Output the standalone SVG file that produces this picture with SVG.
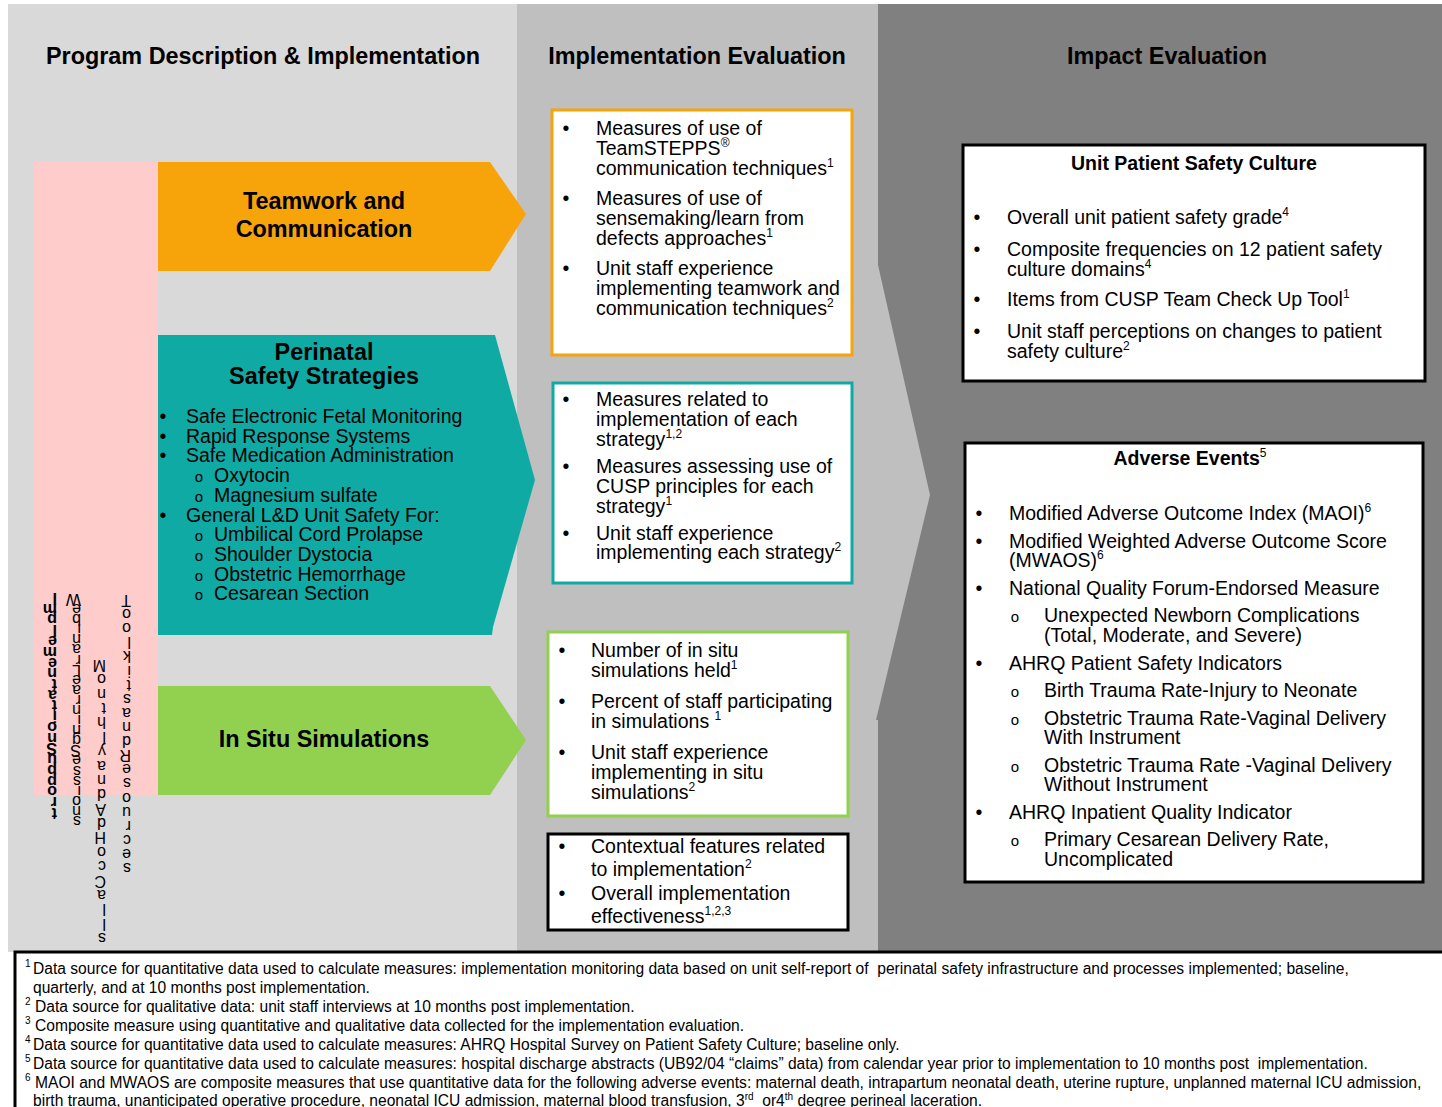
<svg xmlns="http://www.w3.org/2000/svg" width="1442" height="1107" viewBox="0 0 1442 1107">
  <style>
    text { font-family: "Liberation Sans", Arial, sans-serif; fill: #000; }
    .hdr { font-size: 23.4px; font-weight: bold; text-anchor: middle; }
    .t { font-size: 19.5px; }
    .tb { font-size: 19.5px; font-weight: bold; text-anchor: middle; }
    .bul { font-size: 19.5px; text-anchor: middle; }
    .sub { font-size: 15px; text-anchor: middle; }
    .fn { font-size: 15.6px; }
    .fns { font-size: 10px; }
    .vt { font-size: 16px; }
    .vtb { font-size: 16px; font-weight: bold; }
    .box { fill: #fff; stroke-width: 3; }
  </style>

  <!-- background lanes -->
  <g id="lanes">
    <rect x="0" y="0" width="1442" height="1107" fill="#fff"/>
    <rect x="8" y="4" width="509" height="948" fill="#d9d9d9"/>
    <rect x="874" y="4" width="568" height="948" fill="#808080"/>
    <polygon points="517,4 878,4 878,265 930,495 876,720 878,720 878,952 517,952" fill="#bfbfbf"/>
    <text class="hdr" x="263" y="64">Program Description &amp; Implementation</text>
    <text class="hdr" x="697" y="64">Implementation Evaluation</text>
    <text class="hdr" x="1167" y="64">Impact Evaluation</text>
  </g>

  <!-- implementation support bar: stacked, upside-down glyph columns -->
  <g id="support-bar">
    <rect x="34" y="162" width="124" height="633" fill="#ffcccc"/>
    <text class="vtb" rotate="180"
      x="57 57 57 57 57 57 57 57 57 57 57 57 57 57 57 57 57 57 57 57 57 57"
      y="593 604 614 625 636 647 658 668 679 690 700 711 722 733 743 743 754 765 776 786 797 808">Implementation Support</text>
    <text class="vt" rotate="180"
      x="81 81 81 81 81 81 81 81 81 81 81 81 81 81 81 81 81 81 81 81 81 81 81 81 81"
      y="594 604 614 624 634 644 655 665 665 675 685 695 705 715 725 735 745 745 755 766 776 786 796 806 816">Webinar Learning Sessions</text>
    <text class="vt" rotate="180"
      x="106 106 106 106 106 106 106 106 106 106 106 106 106 106 106 106 106 106 106 106 106 106 106 106"
      y="660 674 689 703 717 732 746 761 761 775 789 804 804 818 832 832 847 861 876 876 890 904 919 933">Monthly and Ad Hoc Calls</text>
    <text class="vt" rotate="180"
      x="131 131 131 131 131 131 131 131 131 131 131 131 131 131 131 131 131 131 131 131 131 131"
      y="595 609 623 637 651 666 680 694 708 708 722 736 750 750 764 778 793 807 821 835 849 863">Toolkits and Resources</text>
  </g>

  <!-- program components -->
  <g id="teamwork">
    <polygon points="158,162 490,162 526,214 490,271 158,271" fill="#f7a40b"/>
    <text class="hdr" x="324" y="209">Teamwork and</text>
    <text class="hdr" x="324" y="237">Communication</text>
  </g>

  <g id="perinatal">
    <polygon points="158,335 495,335 535,480 493,627 492,635 158,635" fill="#10aaa5"/>
    <text class="hdr" x="324" y="360">Perinatal</text>
    <text class="hdr" x="324" y="384">Safety Strategies</text>
    <text class="bul" x="163" y="422.5">•</text>
    <text class="t" x="186" y="422.5">Safe Electronic Fetal Monitoring</text>
    <text class="bul" x="163" y="442.5">•</text>
    <text class="t" x="186" y="442.5">Rapid Response Systems</text>
    <text class="bul" x="163" y="461.5">•</text>
    <text class="t" x="186" y="461.5">Safe Medication Administration</text>
    <text class="sub" x="199" y="481.5">o</text>
    <text class="t" x="214" y="481.5">Oxytocin</text>
    <text class="sub" x="199" y="501.5">o</text>
    <text class="t" x="214" y="501.5">Magnesium sulfate</text>
    <text class="bul" x="163" y="521.5">•</text>
    <text class="t" x="186" y="521.5">General L&amp;D Unit Safety For:</text>
    <text class="sub" x="199" y="540.5">o</text>
    <text class="t" x="214" y="540.5">Umbilical Cord Prolapse</text>
    <text class="sub" x="199" y="560.5">o</text>
    <text class="t" x="214" y="560.5">Shoulder Dystocia</text>
    <text class="sub" x="199" y="580.5">o</text>
    <text class="t" x="214" y="580.5">Obstetric Hemorrhage</text>
    <text class="sub" x="199" y="599.5">o</text>
    <text class="t" x="214" y="599.5">Cesarean Section</text>
  </g>

  <g id="insitu">
    <polygon points="158,686 490,686 526,740 490,795 158,795" fill="#92d050"/>
    <text class="hdr" x="324" y="747">In Situ Simulations</text>
  </g>

  <!-- implementation evaluation measures -->
  <g id="eval-teamwork">
    <rect class="box" x="552" y="110" width="300" height="245" stroke="#f5a40b"/>
    <text class="bul" x="566" y="134.5">•</text>
    <text class="t" x="596" y="134.5">Measures of use of</text>
    <text class="t" x="596" y="154.5">TeamSTEPPS<tspan font-size="12" dy="-8">®</tspan></text>
    <text class="t" x="596" y="174.5">communication techniques<tspan font-size="12" dy="-8">1</tspan></text>
    <text class="bul" x="566" y="204.5">•</text>
    <text class="t" x="596" y="204.5">Measures of use of</text>
    <text class="t" x="596" y="224.5">sensemaking/learn from</text>
    <text class="t" x="596" y="244.5">defects approaches<tspan font-size="12" dy="-8">1</tspan></text>
    <text class="bul" x="566" y="274.5">•</text>
    <text class="t" x="596" y="274.5">Unit staff experience</text>
    <text class="t" x="596" y="294.5">implementing teamwork and</text>
    <text class="t" x="596" y="314.5">communication techniques<tspan font-size="12" dy="-8">2</tspan></text>
  </g>

  <g id="eval-perinatal">
    <rect class="box" x="553" y="383" width="299" height="200" stroke="#10aaa5"/>
    <text class="bul" x="566" y="405.5">•</text>
    <text class="t" x="596" y="405.5">Measures related to</text>
    <text class="t" x="596" y="425.5">implementation of each</text>
    <text class="t" x="596" y="445.5">strategy<tspan font-size="12" dy="-8">1,2</tspan></text>
    <text class="bul" x="566" y="472.5">•</text>
    <text class="t" x="596" y="472.5">Measures assessing use of</text>
    <text class="t" x="596" y="492.5">CUSP principles for each</text>
    <text class="t" x="596" y="512.5">strategy<tspan font-size="12" dy="-8">1</tspan></text>
    <text class="bul" x="566" y="539.5">•</text>
    <text class="t" x="596" y="539.5">Unit staff experience</text>
    <text class="t" x="596" y="558.5">implementing each strategy<tspan font-size="12" dy="-8">2</tspan></text>
  </g>

  <g id="eval-insitu">
    <rect class="box" x="548" y="632" width="300" height="184" stroke="#92d050"/>
    <text class="bul" x="562" y="656.5">•</text>
    <text class="t" x="591" y="656.5">Number of in situ</text>
    <text class="t" x="591" y="676.5">simulations held<tspan font-size="12" dy="-8">1</tspan></text>
    <text class="bul" x="562" y="707.5">•</text>
    <text class="t" x="591" y="707.5">Percent of staff participating</text>
    <text class="t" x="591" y="727.5" xml:space="preserve">in simulations <tspan font-size="12" dy="-8">1</tspan></text>
    <text class="bul" x="562" y="758.5">•</text>
    <text class="t" x="591" y="758.5">Unit staff experience</text>
    <text class="t" x="591" y="778.5">implementing in situ</text>
    <text class="t" x="591" y="798.5">simulations<tspan font-size="12" dy="-8">2</tspan></text>
  </g>

  <g id="eval-overall">
    <rect class="box" x="548" y="834" width="300" height="96" stroke="#000"/>
    <text class="bul" x="562" y="852.5">•</text>
    <text class="t" x="591" y="852.5">Contextual features related</text>
    <text class="t" x="591" y="875.5">to implementation<tspan font-size="12" dy="-8">2</tspan></text>
    <text class="bul" x="562" y="899.5">•</text>
    <text class="t" x="591" y="899.5">Overall implementation</text>
    <text class="t" x="591" y="922.5">effectiveness<tspan font-size="12" dy="-8">1,2,3</tspan></text>
  </g>

  <!-- impact evaluation measures -->
  <g id="impact-culture">
    <rect class="box" x="963" y="145" width="462" height="236" stroke="#000"/>
    <text class="tb" x="1194" y="170">Unit Patient Safety Culture</text>
    <text class="bul" x="977" y="223.5">•</text>
    <text class="t" x="1007" y="223.5">Overall unit patient safety grade<tspan font-size="12" dy="-8">4</tspan></text>
    <text class="bul" x="977" y="255.5">•</text>
    <text class="t" x="1007" y="255.5">Composite frequencies on 12 patient safety</text>
    <text class="t" x="1007" y="275.5">culture domains<tspan font-size="12" dy="-8">4</tspan></text>
    <text class="bul" x="977" y="305.5">•</text>
    <text class="t" x="1007" y="305.5">Items from CUSP Team Check Up Tool<tspan font-size="12" dy="-8">1</tspan></text>
    <text class="bul" x="977" y="337.5">•</text>
    <text class="t" x="1007" y="337.5">Unit staff perceptions on changes to patient</text>
    <text class="t" x="1007" y="357.5">safety culture<tspan font-size="12" dy="-8">2</tspan></text>
  </g>

  <g id="impact-adverse">
    <rect class="box" x="965" y="443" width="458" height="439" stroke="#000"/>
    <text class="tb" x="1190" y="465">Adverse Events<tspan font-size="12" font-weight="normal" dy="-8">5</tspan></text>
    <text class="bul" x="979" y="519.5">•</text>
    <text class="t" x="1009" y="519.5">Modified Adverse Outcome Index (MAOI)<tspan font-size="12" dy="-8">6</tspan></text>
    <text class="bul" x="979" y="547.5">•</text>
    <text class="t" x="1009" y="547.5">Modified Weighted Adverse Outcome Score</text>
    <text class="t" x="1009" y="566.5">(MWAOS)<tspan font-size="12" dy="-8">6</tspan></text>
    <text class="bul" x="979" y="594.5">•</text>
    <text class="t" x="1009" y="594.5">National Quality Forum-Endorsed Measure</text>
    <text class="sub" x="1015" y="621.5">o</text>
    <text class="t" x="1044" y="621.5">Unexpected Newborn Complications</text>
    <text class="t" x="1044" y="641.5">(Total, Moderate, and Severe)</text>
    <text class="bul" x="979" y="669.5">•</text>
    <text class="t" x="1009" y="669.5">AHRQ Patient Safety Indicators</text>
    <text class="sub" x="1015" y="696.5">o</text>
    <text class="t" x="1044" y="696.5">Birth Trauma Rate-Injury to Neonate</text>
    <text class="sub" x="1015" y="724.5">o</text>
    <text class="t" x="1044" y="724.5">Obstetric Trauma Rate-Vaginal Delivery</text>
    <text class="t" x="1044" y="743.5">With Instrument</text>
    <text class="sub" x="1015" y="771.5">o</text>
    <text class="t" x="1044" y="771.5">Obstetric Trauma Rate -Vaginal Delivery</text>
    <text class="t" x="1044" y="790.5">Without Instrument</text>
    <text class="bul" x="979" y="818.5">•</text>
    <text class="t" x="1009" y="818.5">AHRQ Inpatient Quality Indicator</text>
    <text class="sub" x="1015" y="845.5">o</text>
    <text class="t" x="1044" y="845.5">Primary Cesarean Delivery Rate,</text>
    <text class="t" x="1044" y="865.5">Uncomplicated</text>
  </g>

  <!-- footnotes -->
  <g id="footnotes">
    <rect x="15" y="952" width="1440" height="160" fill="#fff" stroke="#000" stroke-width="3"/>
    <text class="fns" x="25" y="967">1</text>
    <text class="fn" x="33" y="973.5" xml:space="preserve">Data source for quantitative data used to calculate measures: implementation monitoring data based on unit self-report of  perinatal safety infrastructure and processes implemented; baseline,</text>
    <text class="fn" x="33" y="992.5">quarterly, and at 10 months post implementation.</text>
    <text class="fns" x="25" y="1005">2</text>
    <text class="fn" x="35" y="1011.5">Data source for qualitative data: unit staff interviews at 10 months post implementation.</text>
    <text class="fns" x="25" y="1024">3</text>
    <text class="fn" x="35" y="1030.5">Composite measure using quantitative and qualitative data collected for the implementation evaluation.</text>
    <text class="fns" x="25" y="1043">4</text>
    <text class="fn" x="33" y="1049.5">Data source for quantitative data used to calculate measures: AHRQ Hospital Survey on Patient Safety Culture; baseline only.</text>
    <text class="fns" x="25" y="1062">5</text>
    <text class="fn" x="33" y="1068.5" xml:space="preserve">Data source for quantitative data used to calculate measures: hospital discharge abstracts (UB92/04 “claims” data) from calendar year prior to implementation to 10 months post  implementation.</text>
    <text class="fns" x="25" y="1081">6</text>
    <text class="fn" x="35" y="1087.5">MAOI and MWAOS are composite measures that use quantitative data for the following adverse events: maternal death, intrapartum neonatal death, uterine rupture, unplanned maternal ICU admission,</text>
    <text class="fn" x="33" y="1105.5" xml:space="preserve">birth trauma, unanticipated operative procedure, neonatal ICU admission, maternal blood transfusion, 3<tspan font-size="10" dy="-6">rd</tspan><tspan dy="6">  or4</tspan><tspan font-size="10" dy="-6">th</tspan><tspan dy="6"> degree perineal laceration.</tspan></text>
  </g>
</svg>
